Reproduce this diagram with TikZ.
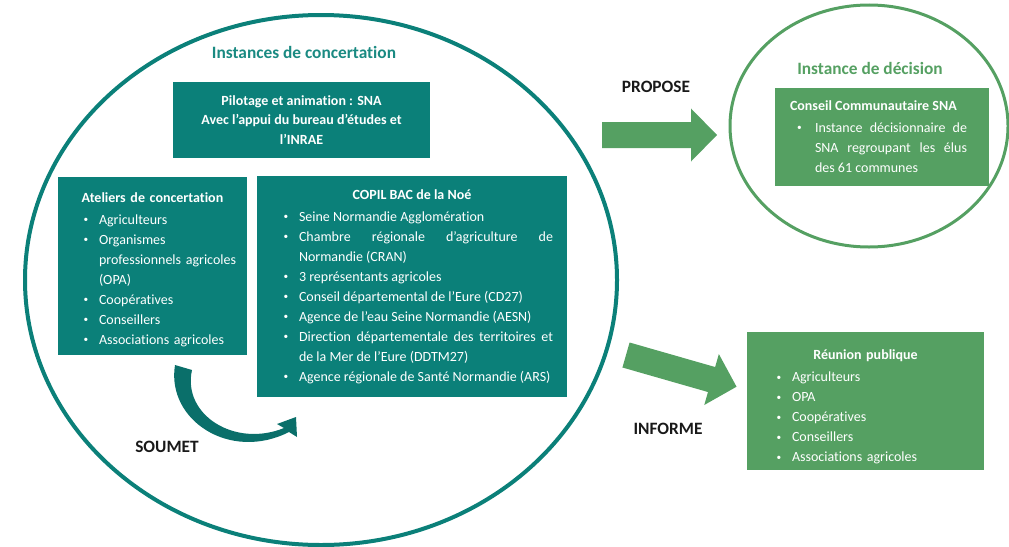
\documentclass[tikz,border=0pt]{standalone}
\usepackage{fontspec}
\setmainfont{Carlito}[Ligatures=NoCommon]
\usepackage{enumitem}
\usetikzlibrary{shapes.geometric}
\definecolor{snateal}{HTML}{0B8079}
\definecolor{snatitle}{HTML}{1A8A82}
\definecolor{snagreen}{HTML}{55A062}
\definecolor{snadark}{HTML}{0A6F6A}
\newlist{bulletlist}{itemize}{1}
\setlist[bulletlist]{label=\raisebox{0.25ex}{\scriptsize\textbullet}, nosep, topsep=2pt, labelsep=8pt}
\hyphenpenalty=10000
\exhyphenpenalty=10000

\begin{document}
\begin{tikzpicture}[
    x=0.75pt, y=-0.75pt,
    ring/.style={ellipse, draw, fill=none, inner sep=0pt},
    ringtitle/.style={font=\fontsize{13}{16}\selectfont\bfseries},
    box/.style={fill=#1, inner sep=0pt},
    boxtext/.style={text=white, inner sep=0pt, anchor=base, font=\fontsize{10.5}{15}\selectfont},
    verb/.style={font=\fontsize{13}{16}\selectfont\bfseries, text=black!90},
    blockarrow/.style={fill=snagreen},
    curvearrow/.style={fill=snadark}
]
    \useasboundingbox (0,0) rectangle (1009,546);

    % the two instances
    \node[ring, draw=snateal, line width=3pt, minimum width=444pt, minimum height=397.5pt]
        (concertation) at (321,280) {};
    \node[ring, draw=snagreen, line width=2.25pt, minimum width=208.5pt, minimum height=181.5pt]
        (decision) at (869,126) {};
    \node[ringtitle, text=snatitle] (concertation title) at (304,52) {Instances de concertation};
    \node[ringtitle, text=snagreen] (decision title) at (870,68) {Instance de décision};

    % boxes inside the big ring
    \node[box=snateal, text=white, align=center, font={\fontsize{10.5}{14.5}\selectfont\bfseries},
        minimum width=192.75pt, minimum height=57pt]
        (pilotage) at (301.5,120)
        {Pilotage et animation : SNA\\Avec l’appui du bureau d’études et\\l’INRAE};

    \node[box=snateal, minimum width=141.75pt, minimum height=133.5pt] (ateliers) at (152.5,266) {};
    \node[boxtext, align=left, text width=129.75pt] (ateliers text) at (152.5,202) {%
        {\centering\textbf{Ateliers de concertation}\par}
        \begin{bulletlist}[leftmargin=24.75pt]
            \item Agriculteurs
            \item Organismes professionnels agricoles (OPA)
            \item Coopératives
            \item Conseillers
            \item Associations agricoles
        \end{bulletlist}};

    \node[box=snateal, minimum width=232.5pt, minimum height=165.75pt] (copil) at (412,286.5) {};
    \node[boxtext, align=justify, text width=211.5pt] (copil text) at (412,199) {%
        {\centering\textbf{COPIL BAC de la Noé}\par}
        \begin{bulletlist}[leftmargin=21pt]
            \item Seine Normandie Agglomération
            \item Chambre régionale d’agriculture de Normandie (CRAN)
            \item 3 représentants agricoles
            \item Conseil départemental de l’Eure (CD27)
            \item Agence de l’eau Seine Normandie (AESN)
            \item Direction départementale des territoires et de la Mer de l’Eure (DDTM27)
            \item Agence régionale de Santé Normandie (ARS)
        \end{bulletlist}};

    % boxes on the right
    \node[box=snagreen, minimum width=160.5pt, minimum height=73.5pt] (conseil) at (882,137) {};
    \node[boxtext, align=justify, text width=138pt] (conseil text) at (882,110) {%
        \textbf{Conseil Communautaire SNA}\par
        \begin{bulletlist}[leftmargin=18.75pt, labelsep=10pt, rightmargin=5.25pt]
            \item Instance décisionnaire de SNA regroupant les élus des 61 communes
        \end{bulletlist}};

    \node[box=snagreen, minimum width=177.75pt, minimum height=103.5pt] (reunion) at (865.5,401) {};
    \node[boxtext, align=left, text width=155.25pt] (reunion text) at (865.5,359) {%
        {\centering\textbf{Réunion publique}\par}
        \begin{bulletlist}[leftmargin=22.5pt]
            \item Agriculteurs
            \item OPA
            \item Coopératives
            \item Conseillers
            \item Associations agricoles
        \end{bulletlist}};

    % arrows and verbs
    \coordinate (propose tail) at (602,135);
    \coordinate (informe tail) at (626,355);
    \fill[blockarrow, shift={(propose tail)}]
        (0,-13) -- (89,-13) -- (89,-26.5) -- (115,0) -- (89,26.5) -- (89,13) -- (0,13) -- cycle;
    \fill[blockarrow, shift={(informe tail)}, rotate=-16]
        (0,-13) -- (89,-13) -- (89,-26.5) -- (115,0) -- (89,26.5) -- (89,13) -- (0,13) -- cycle;
    \node[verb] (propose) at (656,87) {PROPOSE};
    \node[verb] (informe) at (668,429) {INFORME};

    \fill[curvearrow] (175,365) .. controls (166,420) and (230,462) .. (289,432)
        -- (297,437) -- (296,417) -- (277,424) -- (284,428)
        .. controls (235,448) and (182,415) .. (192,370) -- cycle;
    \node[verb] (soumet) at (167,447) {SOUMET};
\end{tikzpicture}
\end{document}
